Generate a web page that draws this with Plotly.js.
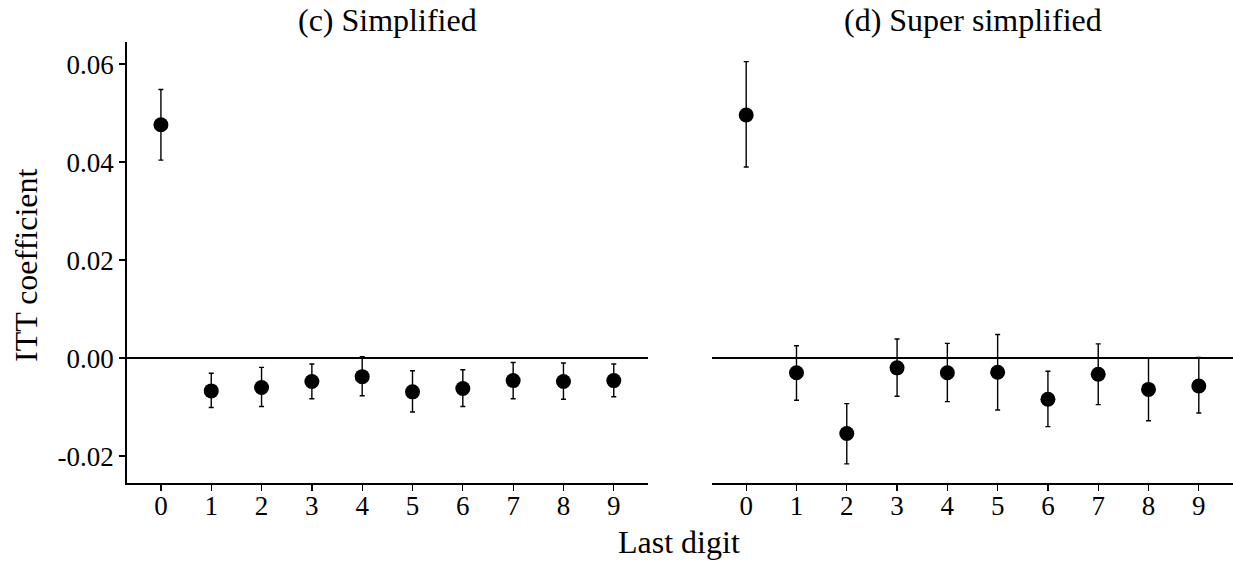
<!DOCTYPE html>
<html>
<head>
<meta charset="utf-8">
<script src="https://cdn.plot.ly/plotly-3.0.1.min.js"></script>
<style>html,body{margin:0;padding:0;background:#fff;}#chart{width:1233px;height:565px;}</style>
</head>
<body>
<div id="chart"></div>
<script>
// Data
const digits = [0, 1, 2, 3, 4, 5, 6, 7, 8, 9];
const digitLabels = ["0","1","2","3","4","5","6","7","8","9"];

// (c) Simplified
const coefC  = [0.0476, -0.0067, -0.0060, -0.0048, -0.0038, -0.0069, -0.0062, -0.0046, -0.0048, -0.0046];
const upperC = [0.0548, -0.0031, -0.0019, -0.0012,  0.0003, -0.0026, -0.0024, -0.0009, -0.0010, -0.0012];
const lowerC = [0.0404, -0.0101, -0.0099, -0.0083, -0.0077, -0.0110, -0.0099, -0.0083, -0.0084, -0.0079];

// (d) Super simplified
const coefD  = [0.0496, -0.0030, -0.0154, -0.0020, -0.0030, -0.0029, -0.0084, -0.0033, -0.0064, -0.0057];
const upperD = [0.0605,  0.0025, -0.0093,  0.0039,  0.0030,  0.0048, -0.0027,  0.0029,  0.0000,  0.0001];
const lowerD = [0.0390, -0.0086, -0.0216, -0.0078, -0.0089, -0.0106, -0.0140, -0.0095, -0.0128, -0.0112];

const yTickVals = [-0.02, 0.00, 0.02, 0.04, 0.06];
const yTickText = ["-0.02", "0.00", "0.02", "0.04", "0.06"];

const panelTitles = ["(c) Simplified", "(d) Super simplified"];
const xTitle = "Last digit";
const yTitle = "ITT coefficient";

const FONT = '"Liberation Serif", "Times New Roman", Times, serif';
const TICK_SIZE = 27;
const TITLE_SIZE = 32;

function trace(coef, upper, lower, xa, ya) {
  return {
    type: 'scatter', mode: 'markers',
    x: digits, y: coef, xaxis: xa, yaxis: ya,
    marker: {color: '#000', size: 15},
    error_y: {
      type: 'data', symmetric: false,
      array: upper.map((u, i) => u - coef[i]),
      arrayminus: lower.map((l, i) => coef[i] - l),
      color: '#000', thickness: 1.4, width: 2.5
    },
    showlegend: false, hoverinfo: 'x+y'
  };
}

const xRange = [-0.68, 9.68];
const yRange = [-0.0255, 0.0645];
const yDom = [1 - 483/565, 1 - 42/565];

const xCommon = {
  range: xRange, tickvals: digits, ticktext: digitLabels,
  showline: true, linecolor: '#000', linewidth: 1.5,
  ticks: 'outside', ticklen: 6, tickwidth: 1.3, tickcolor: '#000',
  showgrid: false, zeroline: false, ticklabelstandoff: -8,
  tickfont: {family: FONT, size: TICK_SIZE, color: '#000'}, fixedrange: true
};

const layout = {
  width: 1233, height: 565,
  margin: {l: 0, r: 0, t: 0, b: 0},
  paper_bgcolor: '#fff', plot_bgcolor: '#fff',
  font: {family: FONT, color: '#000'},
  xaxis: Object.assign({}, xCommon, {domain: [126.7/1233, 648/1233], anchor: 'y'}),
  xaxis2: Object.assign({}, xCommon, {domain: [712/1233, 1], anchor: 'y2'}),
  yaxis: {
    domain: yDom, range: yRange, anchor: 'x',
    tickvals: yTickVals, ticktext: yTickText,
    showline: true, linecolor: '#000', linewidth: 1.5,
    ticks: 'outside', ticklen: 6, tickwidth: 1.3, tickcolor: '#000',
    showgrid: false, zeroline: true, zerolinecolor: '#000', zerolinewidth: 1.4,
    tickfont: {family: FONT, size: TICK_SIZE, color: '#000'}, fixedrange: true
  },
  yaxis2: {
    domain: yDom, range: yRange, anchor: 'x2',
    showline: false, ticks: '', showticklabels: false,
    showgrid: false, zeroline: true, zerolinecolor: '#000', zerolinewidth: 1.4,
    fixedrange: true
  },
  annotations: [
    {text: panelTitles[0], xref: 'paper', yref: 'paper', x: (126.7 + 648)/2/1233, y: 1 - 20/565,
     xanchor: 'center', yanchor: 'middle', showarrow: false, font: {family: FONT, size: TITLE_SIZE, color: '#000'}},
    {text: panelTitles[1], xref: 'paper', yref: 'paper', x: (712 + 1233)/2/1233, y: 1 - 20/565,
     xanchor: 'center', yanchor: 'middle', showarrow: false, font: {family: FONT, size: TITLE_SIZE, color: '#000'}},
    {text: xTitle, xref: 'paper', yref: 'paper', x: 679/1233, y: 1 - 542/565,
     xanchor: 'center', yanchor: 'middle', showarrow: false, font: {family: FONT, size: TITLE_SIZE, color: '#000'}},
    {text: yTitle, xref: 'paper', yref: 'paper', x: 26/1233, y: 1 - 265/565, textangle: -90,
     xanchor: 'center', yanchor: 'middle', showarrow: false, font: {family: FONT, size: TITLE_SIZE, color: '#000'}}
  ]
};

Plotly.newPlot('chart', [
  trace(coefC, upperC, lowerC, 'x', 'y'),
  trace(coefD, upperD, lowerD, 'x2', 'y2')
], layout, {displayModeBar: false, staticPlot: true});
</script>
</body>
</html>
